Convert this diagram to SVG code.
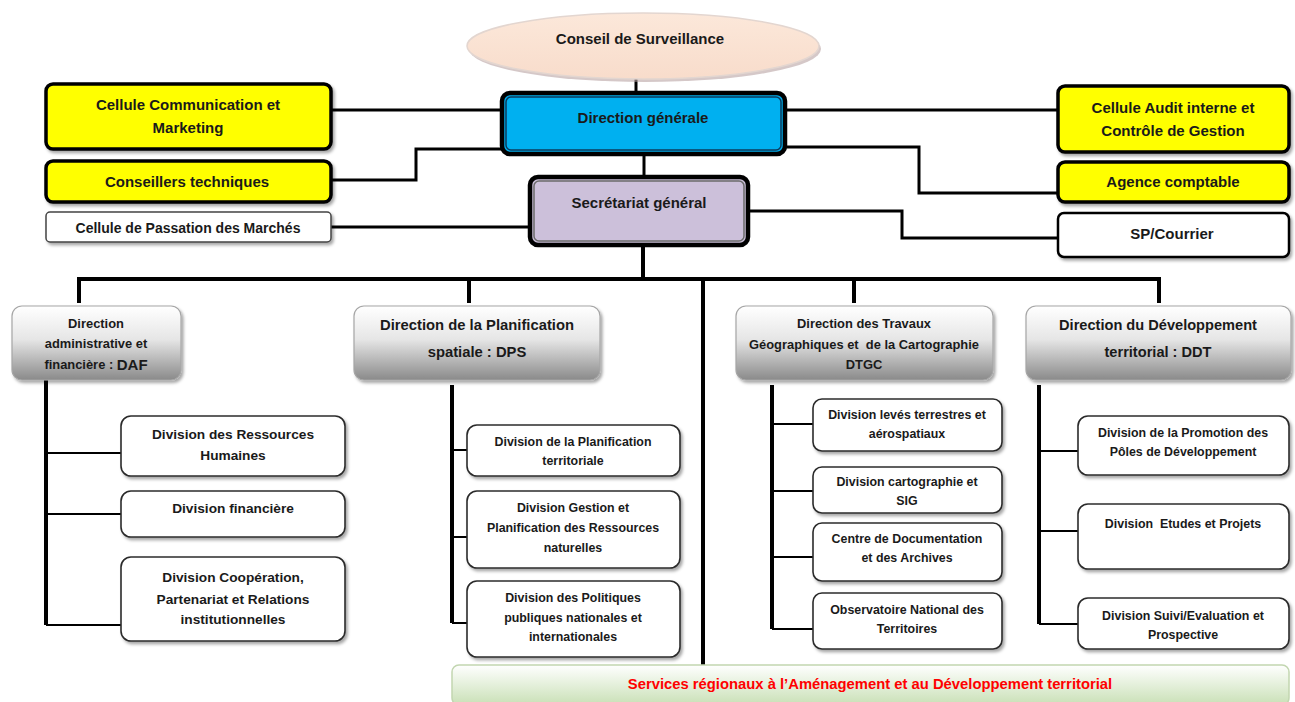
<svg xmlns="http://www.w3.org/2000/svg" width="1295" height="702" viewBox="0 0 1295 702">
<defs>
  <filter id="sh" x="-10%" y="-20%" width="125%" height="150%">
    <feDropShadow dx="2" dy="2.5" stdDeviation="1.5" flood-color="#000" flood-opacity="0.35"/>
  </filter>
  <linearGradient id="gDir" x1="0" y1="0" x2="0" y2="1">
    <stop offset="0" stop-color="#ffffff"/>
    <stop offset="0.45" stop-color="#e6e6e6"/>
    <stop offset="1" stop-color="#8a8a8a"/>
  </linearGradient>
  <linearGradient id="gSrv" x1="0" y1="0" x2="0" y2="1">
    <stop offset="0" stop-color="#ffffff"/>
    <stop offset="1" stop-color="#c9e0b6"/>
  </linearGradient>
  <linearGradient id="gEll" x1="0" y1="0" x2="0" y2="1">
    <stop offset="0" stop-color="#fce8da"/>
    <stop offset="1" stop-color="#f8dccb"/>
  </linearGradient>
</defs>
<style>
  text { font-family: "Liberation Sans", Arial, sans-serif; font-weight: bold; fill: #1a1a1a; text-anchor: middle; dominant-baseline: central; }
  .t15 { font-size: 15px; }
  .t14 { font-size: 14px; }
  .tda { font-size: 13.7px; }
  .tsm { font-size: 12.4px; }
  .tdf { font-size: 12.9px; }
  .yel { fill: #ffff00; stroke: #000; stroke-width: 3.5; }
  .wht { fill: #fff; stroke: #444; stroke-width: 1.5; }
  .dir { fill: url(#gDir); stroke: #a6a6a6; stroke-width: 1.2; }
  .div { fill: #fff; stroke: #2b2b2b; stroke-width: 1.6; }
  .thick { fill: none; stroke: #000; stroke-width: 4; }
  .mid { fill: none; stroke: #000; stroke-width: 3; }
  .thin { fill: none; stroke: #000; stroke-width: 2; }
  .red { fill: #ff0000; font-size: 14.8px; }
</style>

<g id="connectors">
  <path class="mid" d="M636 79 V93"/>
  <path class="mid" d="M644 154 V178"/>
  <path class="mid" d="M331 110 H502"/>
  <path class="mid" d="M502 149 H416 V180 H331"/>
  <path class="mid" d="M331 227 H530"/>
  <path class="mid" d="M785 110 H1058"/>
  <path class="mid" d="M785 147 H919 V193 H1058"/>
  <path class="mid" d="M748 211 H902 V238 H1058"/>
  <path class="thick" d="M643 245 V279"/>
  <path class="thick" d="M79 303 V279 H1159 V303"/>
  <path class="thick" d="M469 279 V303"/>
  <path class="thick" d="M854 279 V303"/>
  <path class="thick" d="M703 279 V665"/>
  <path class="thick" d="M46 380 V625"/>
  <path class="thin" d="M46 453 H121 M46 514 H121 M46 625 H121"/>
  <path class="thick" d="M452 385 V623"/>
  <path class="thin" d="M452 450 H467 M452 537 H467 M452 623 H467"/>
  <path class="thick" d="M772 385 V629"/>
  <path class="thin" d="M772 424 H813 M772 491 H813 M772 557 H813 M772 629 H813"/>
  <path class="thick" d="M1039 385 V624"/>
  <path class="thin" d="M1039 451 H1078 M1039 531 H1078 M1039 624 H1078"/>
</g>

<g id="conseil">
  <ellipse cx="645" cy="49" rx="176" ry="33" fill="#b9a3a3" opacity="0.6"/>
  <ellipse cx="643" cy="46" rx="176" ry="33" fill="url(#gEll)" stroke="#e3d6d0" stroke-width="1.5"/>
  <text class="t15" x="640" y="38">Conseil de Surveillance</text>
</g>

<g id="dg">
  <rect x="502" y="93" width="283" height="61" rx="8" fill="#00b0f0" stroke="#000" stroke-width="4.5"/>
  <rect x="506" y="97" width="275" height="53" rx="5" fill="none" stroke="#0b3b5c" stroke-width="1.5"/>
  <text class="t15" x="643" y="117">Direction générale</text>
</g>

<g id="sg">
  <rect x="530" y="177" width="218" height="68" rx="8" fill="#ccc0da" stroke="#000" stroke-width="4.5"/>
  <rect x="534" y="181" width="210" height="60" rx="5" fill="none" stroke="#6b6b6b" stroke-width="1.5"/>
  <text class="t15" x="639" y="202">Secrétariat général</text>
</g>

<g id="ccm">
  <rect class="yel" x="46" y="84" width="285" height="65" rx="7" filter="url(#sh)"/>
  <text class="t15" x="188" y="104">Cellule Communication et</text>
  <text class="t15" x="188" y="127">Marketing</text>
</g>

<g id="conseillers">
  <rect class="yel" x="46" y="161" width="285" height="41" rx="7" filter="url(#sh)"/>
  <text class="t15" x="187" y="181">Conseillers techniques</text>
</g>

<g id="passation">
  <rect class="wht" x="46" y="212" width="285" height="30" rx="4" filter="url(#sh)"/>
  <text class="t14" x="188" y="228">Cellule de Passation des Marchés</text>
</g>

<g id="audit">
  <rect class="yel" x="1058" y="86" width="231" height="66" rx="7" filter="url(#sh)"/>
  <text class="t15" x="1173" y="107">Cellule Audit interne et</text>
  <text class="t15" x="1173" y="130">Contrôle de Gestion</text>
</g>

<g id="agence">
  <rect class="yel" x="1058" y="162" width="231" height="40" rx="7" filter="url(#sh)"/>
  <text class="t15" x="1173" y="181">Agence comptable</text>
</g>

<g id="sp">
  <rect x="1058" y="213" width="231" height="44" rx="6" fill="#fff" stroke="#000" stroke-width="2.5" filter="url(#sh)"/>
  <text class="t15" x="1172" y="233">SP/Courrier</text>
</g>

<g id="daf">
  <rect class="dir" x="12" y="306" width="169" height="74" rx="10" filter="url(#sh)"/>
  <text class="tdf" x="96" y="323">Direction</text>
  <text class="tdf" x="96" y="343">administrative et</text>
  <text class="tdf" x="96" y="364">financière : <tspan font-size="15">DAF</tspan></text>
</g>

<g id="dps">
  <rect class="dir" x="354" y="306" width="246" height="74" rx="10" filter="url(#sh)"/>
  <text x="477" y="325" font-size="14.8">Direction de la Planification</text>
  <text x="477" y="352" font-size="14.8">spatiale : DPS</text>
</g>

<g id="dtgc">
  <rect class="dir" x="736" y="306" width="257" height="74" rx="10" filter="url(#sh)"/>
  <text class="tdf" x="864" y="323">Direction des Travaux</text>
  <text class="tdf" x="864" y="344">Géographiques et &#160;de la Cartographie</text>
  <text class="tdf" x="864" y="364">DTGC</text>
</g>

<g id="ddt">
  <rect class="dir" x="1026" y="306" width="265" height="74" rx="10" filter="url(#sh)"/>
  <text x="1158" y="325" font-size="14.6">Direction du Développement</text>
  <text x="1158" y="352" font-size="14.6">territorial : DDT</text>
</g>

<g id="div-rh">
  <rect class="div" x="121" y="416" width="224" height="60" rx="10" filter="url(#sh)"/>
  <text class="tda" x="233" y="434">Division des Ressources</text>
  <text class="tda" x="233" y="455">Humaines</text>
</g>
<g id="div-fin">
  <rect class="div" x="121" y="491" width="224" height="46" rx="10" filter="url(#sh)"/>
  <text class="tda" x="233" y="508">Division financière</text>
</g>
<g id="div-coop">
  <rect class="div" x="121" y="557" width="224" height="84" rx="10" filter="url(#sh)"/>
  <text class="tda" x="233" y="577">Division Coopération,</text>
  <text class="tda" x="233" y="599">Partenariat et Relations</text>
  <text class="tda" x="233" y="619">institutionnelles</text>
</g>

<g id="div-plan">
  <rect class="div" x="467" y="425" width="213" height="51" rx="10" filter="url(#sh)"/>
  <text class="tsm" x="573" y="442">Division de la Planification</text>
  <text class="tsm" x="573" y="461">territoriale</text>
</g>
<g id="div-gest">
  <rect class="div" x="467" y="491" width="213" height="77" rx="10" filter="url(#sh)"/>
  <text class="tsm" x="573" y="508">Division Gestion et</text>
  <text class="tsm" x="573" y="528">Planification des Ressources</text>
  <text class="tsm" x="573" y="548">naturelles</text>
</g>
<g id="div-pol">
  <rect class="div" x="467" y="581" width="213" height="76" rx="10" filter="url(#sh)"/>
  <text class="tsm" x="573" y="598">Division des Politiques</text>
  <text class="tsm" x="573" y="618">publiques nationales et</text>
  <text class="tsm" x="573" y="637">internationales</text>
</g>

<g id="div-leves">
  <rect class="div" x="813" y="399" width="189" height="52" rx="9" filter="url(#sh)"/>
  <text class="tsm" x="907" y="415">Division levés terrestres et</text>
  <text class="tsm" x="907" y="434">aérospatiaux</text>
</g>
<g id="div-carto">
  <rect class="div" x="813" y="467" width="189" height="46" rx="9" filter="url(#sh)"/>
  <text class="tsm" x="907" y="482">Division cartographie et</text>
  <text class="tsm" x="907" y="501">SIG</text>
</g>
<g id="centre-doc">
  <rect class="div" x="813" y="523" width="189" height="58" rx="9" filter="url(#sh)"/>
  <text class="tsm" x="907" y="539">Centre de Documentation</text>
  <text class="tsm" x="907" y="558">et des Archives</text>
</g>
<g id="observatoire">
  <rect class="div" x="813" y="593" width="189" height="56" rx="9" filter="url(#sh)"/>
  <text class="tsm" x="907" y="610">Observatoire National des</text>
  <text class="tsm" x="907" y="629">Territoires</text>
</g>

<g id="div-promo">
  <rect class="div" x="1078" y="416" width="211" height="59" rx="10" filter="url(#sh)"/>
  <text class="tsm" x="1183" y="433">Division de la Promotion des</text>
  <text class="tsm" x="1183" y="452">Pôles de Développement</text>
</g>
<g id="div-etudes">
  <rect class="div" x="1078" y="504" width="211" height="65" rx="10" filter="url(#sh)"/>
  <text class="tsm" x="1183" y="524">Division &#160;Etudes et Projets</text>
</g>
<g id="div-suivi">
  <rect class="div" x="1078" y="598" width="211" height="51" rx="10" filter="url(#sh)"/>
  <text class="tsm" x="1183" y="616">Division Suivi/Evaluation et</text>
  <text class="tsm" x="1183" y="635">Prospective</text>
</g>

<g id="services">
  <rect x="452" y="665" width="837" height="40" rx="7" fill="url(#gSrv)" stroke="#c2d6b0" stroke-width="1.5"/>
  <text class="red" x="870" y="684">Services régionaux à l’Aménagement et au Développement territorial</text>
</g>
</svg>
